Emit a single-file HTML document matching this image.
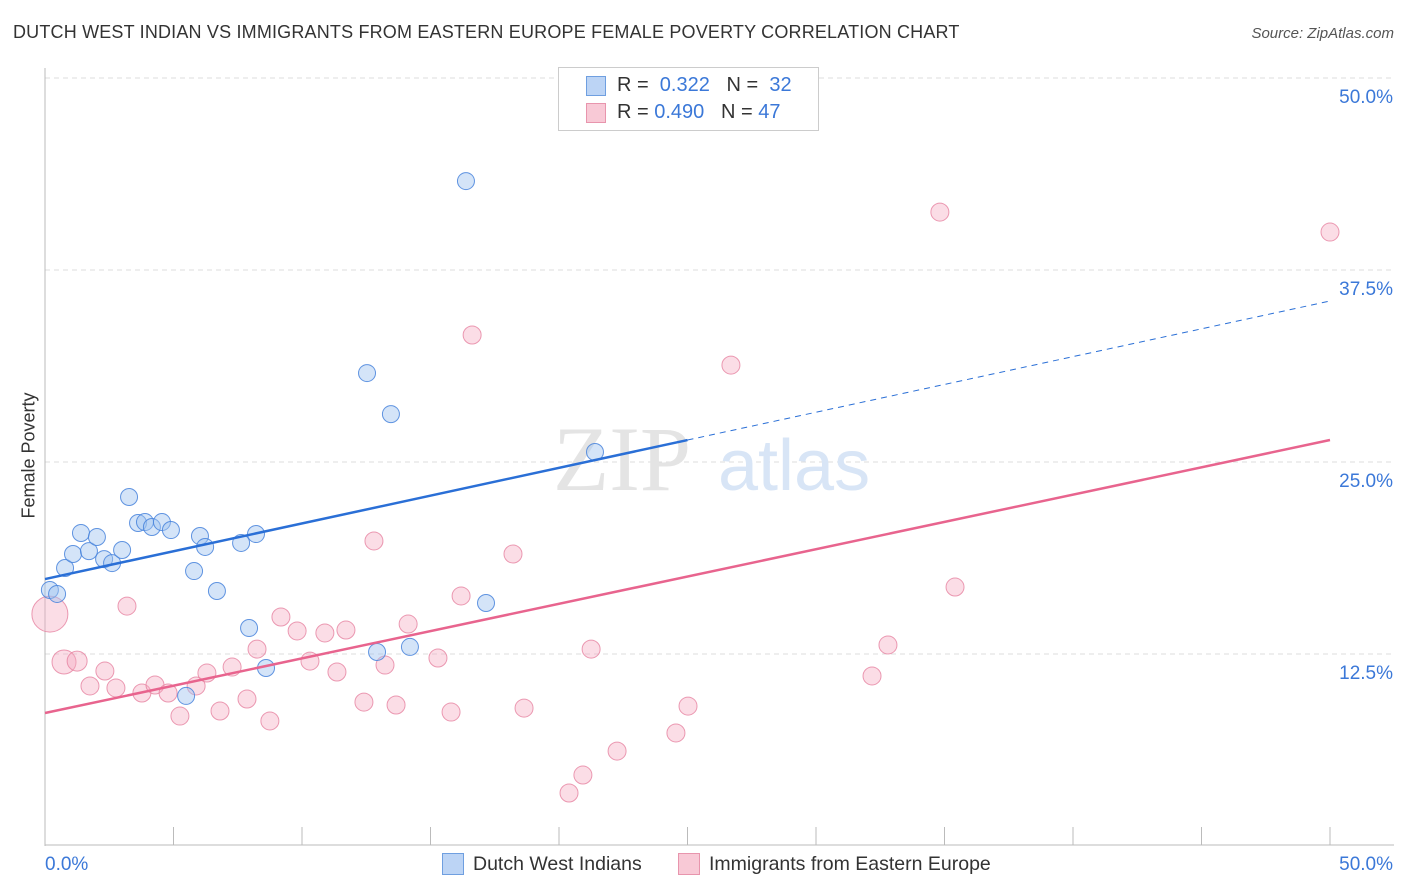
<!DOCTYPE html>
<html><head><meta charset="utf-8"><style>
body{margin:0;background:#fff;font-family:"Liberation Sans",sans-serif;}
#wrap{position:relative;width:1406px;height:892px;overflow:hidden;}
.t{position:absolute;white-space:nowrap;}
</style></head><body>
<div id="wrap">
<div class="t" style="left:13px;top:22px;font-size:18px;letter-spacing:0.18px;color:#333;">DUTCH WEST INDIAN VS IMMIGRANTS FROM EASTERN EUROPE FEMALE POVERTY CORRELATION CHART</div>
<div class="t" style="right:12px;top:25px;font-size:15px;color:#555;font-style:italic;">Source: ZipAtlas.com</div>
<div class="t" style="left:-34px;top:445px;font-size:18px;color:#333;transform:rotate(-90deg);">Female Poverty</div>
<svg id="svg" width="1406" height="892" style="position:absolute;left:0;top:0"></svg>
<div style="position:absolute;left:558px;top:67px;width:259px;height:62px;border:1px solid #ccc;background:#fff;">
 <div style="position:absolute;left:27px;top:8px;width:18px;height:18px;background:#bcd4f5;border:1px solid #6f9fe0;"></div>
 <div class="t" style="left:58px;top:6px;font-size:20px;color:#333;">R = &nbsp;<span style="color:#3b78d8">0.322</span> &nbsp; N = &nbsp;<span style="color:#3b78d8">32</span></div>
 <div style="position:absolute;left:27px;top:35px;width:18px;height:18px;background:#f8c9d6;border:1px solid #e895ad;"></div>
 <div class="t" style="left:58px;top:33px;font-size:20px;color:#333;">R = <span style="color:#3b78d8">0.490</span> &nbsp; N = <span style="color:#3b78d8">47</span></div>
</div>
<div>
 <div style="position:absolute;left:442px;top:853px;width:20px;height:20px;background:#bcd4f5;border:1px solid #6f9fe0;"></div>
 <div class="t" style="left:473px;top:853px;font-size:19.5px;color:#333;">Dutch West Indians</div>
 <div style="position:absolute;left:678px;top:853px;width:20px;height:20px;background:#f8c9d6;border:1px solid #e895ad;"></div>
 <div class="t" style="left:709px;top:853px;font-size:19.5px;color:#333;">Immigrants from Eastern Europe</div>
</div>
</div>
<script>
const blueX=[0.19,0.47,0.78,1.09,1.40,1.71,2.02,2.30,2.61,3.00,3.27,3.62,3.89,4.16,4.55,4.90,5.49,5.80,6.03,6.23,6.69,7.63,7.94,8.21,8.60,12.53,12.92,13.46,14.20,16.38,17.16,21.40];
const blueY=[16.67,16.41,18.10,19.01,20.38,19.20,20.12,18.68,18.42,19.27,22.72,21.03,21.09,20.77,21.09,20.57,9.77,17.90,20.18,19.47,16.60,19.73,14.19,20.31,11.59,30.79,12.63,28.12,12.96,43.29,15.82,25.65];
const pinkX=[0.19,0.74,1.25,1.75,2.33,2.76,3.19,3.77,4.28,4.79,5.25,5.88,6.30,6.81,7.28,7.86,8.25,8.75,9.18,9.81,10.31,10.89,11.36,11.71,12.41,12.80,13.23,13.66,14.13,15.29,15.80,16.19,16.62,18.21,18.64,20.39,20.93,21.25,22.26,24.55,25.02,26.69,32.18,32.80,34.82,35.41,50.00];
const pinkY=[15.10,11.98,12.04,10.42,11.39,10.29,15.62,9.96,10.48,9.96,8.46,10.42,11.26,8.79,11.65,9.57,12.82,8.14,14.91,14.00,12.04,13.87,11.33,14.06,9.37,19.86,11.78,9.18,14.45,12.24,8.72,16.28,33.27,19.01,8.98,3.45,4.62,12.82,6.18,7.36,9.11,31.31,11.07,13.09,41.27,16.86,39.97];
const pinkR=[18,12,10,9,9,9,9,9,9,9,9,9,9,9,9,9,9,9,9,9,9,9,9,9,9,9,9,9,9,9,9,9,9,9,9,9,9,9,9,9,9,9,9,9,9,9,9];
const blueTrend=[17.38,35.48];
const pinkTrend=[8.66,26.43];
const yTicks=[12.5,25.0,37.5,50.0];
const yTickLabels=["12.5%","25.0%","37.5%","50.0%"];
const xTicks=[0,5,10,15,20,25,30,35,40,45,50];

const NS="http://www.w3.org/2000/svg";
const svg=document.getElementById('svg');
const X=v=>45+v/50*1285;
const Y=v=>846-v/12.5*192;
function mk(t,a){const e=document.createElementNS(NS,t);for(const k in a)e.setAttribute(k,a[k]);svg.appendChild(e);return e;}

yTicks.forEach((t,i)=>{
 const g=mk('line',{x1:45,x2:1394,y1:Y(t),y2:Y(t),stroke:'#ddd','stroke-dasharray':'5,4'});
 
 
 const tx=mk('text',{x:1393,y:Y(t)+25,'text-anchor':'end','font-size':19,fill:'#3b78d8','font-family':'Liberation Sans, sans-serif'});
 tx.textContent=yTickLabels[i];
 
 
});
let ax=mk('line',{x1:45,x2:45,y1:68,y2:846,stroke:'#bbb'});


ax=mk('line',{x1:45,x2:1394,y1:845,y2:845,stroke:'#bbb'});


xTicks.forEach(t=>{
 const l=mk('line',{x1:X(t),x2:X(t),y1:827,y2:845,stroke:'#bbb'});
 
 
});
let lx=mk('text',{x:45,y:870,'font-size':19,fill:'#3b78d8','font-family':'Liberation Sans, sans-serif'});lx.textContent='0.0%';


lx=mk('text',{x:1393,y:870,'text-anchor':'end','font-size':19,fill:'#3b78d8','font-family':'Liberation Sans, sans-serif'});lx.textContent='50.0%';



let wm=mk('text',{x:553,y:490,'font-size':92,fill:'#e4e4e4','font-family':'Liberation Serif, serif'});wm.textContent='ZIP';


wm=mk('text',{x:718,y:490,'font-size':72,fill:'#d8e5f6','font-family':'Liberation Sans, sans-serif'});wm.textContent='atlas';



pinkX.forEach((x,i)=>{
 const c=mk('circle',{cx:X(x),cy:Y(pinkY[i]),r:pinkR[i],fill:'rgba(245,170,192,0.4)',stroke:'rgba(230,130,160,0.8)','stroke-width':1});
 
 
});
blueX.forEach((x,i)=>{
 const c=mk('circle',{cx:X(x),cy:Y(blueY[i]),r:8.5,fill:'rgba(160,195,240,0.45)',stroke:'rgba(70,130,220,0.85)','stroke-width':1});
 
 
});
const bAt=x=>blueTrend[0]+(blueTrend[1]-blueTrend[0])*x/50;
let tl=mk('line',{x1:X(0),y1:Y(bAt(0)),x2:X(25),y2:Y(bAt(25)),stroke:'#2a6fd6','stroke-width':2.5});


tl=mk('line',{x1:X(25),y1:Y(bAt(25)),x2:X(50),y2:Y(bAt(50)),stroke:'#2a6fd6','stroke-width':1,'stroke-dasharray':'6,5'});


tl=mk('line',{x1:X(0),y1:Y(pinkTrend[0]),x2:X(50),y2:Y(pinkTrend[1]),stroke:'#e8648e','stroke-width':2.5});


</script>
</body></html>
